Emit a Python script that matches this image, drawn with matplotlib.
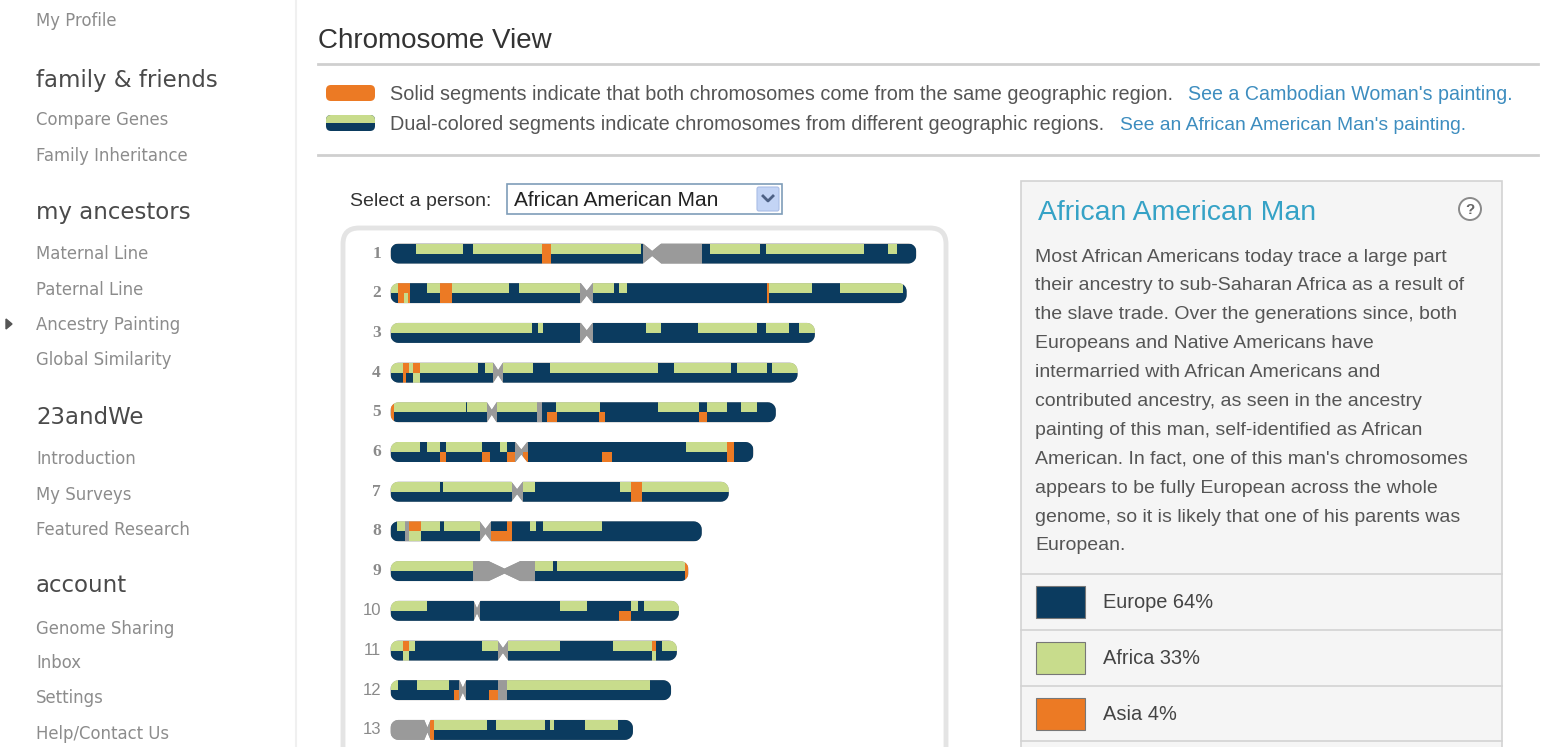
import numpy as np
import matplotlib
matplotlib.use('Agg')
import matplotlib.pyplot as plt
from matplotlib.patches import Rectangle, Polygon, FancyBboxPatch, Circle

# colours used on the page
NAVY = '#0b3b5f'
GREEN = '#c8dc8c'
ORANGE = '#ec7a24'
GRAY = '#9a9a9a'
seg_colors = {'E': NAVY, 'F': GREEN, 'A': ORANGE, 'C': GRAY}

# ---- data: ancestry painting of the African American man (positions in Mb) ----
chrom_names = ['1', '2', '3', '4', '5', '6', '7', '8', '9', '10', '11', '12', '13']
centromere = [124, 93, 93, 51, 48, 62, 60, 45, 54, 41, 53.3, 34.3, 17.5]
cen_halfwidth = [4.3, 2.8, 2.8, 2.3, 2.3, 2.8, 2.7, 2.7, 7.5, 1.6, 2.5, 1.6, 1.5]

# each strand: list of (segment end, region) ; E=Europe F=Africa A=Asia C=no data
top_strand = [
    [(12.3, 'E'), (34.5, 'F'), (39.2, 'E'), (71.9, 'F'), (76.2, 'A'), (118.5, 'F'), (119.7, 'E'), (147.5, 'C'),
     (151.2, 'E'), (175.1, 'F'), (177.9, 'E'), (224.3, 'F'), (235.9, 'E'), (240.1, 'F'), (249.2, 'E')],
    [(3.7, 'F'), (9.2, 'A'), (17.2, 'E'), (23.5, 'F'), (29.0, 'A'), (56.3, 'F'), (61.0, 'E'), (90.0, 'F'),
     (95.8, 'C'), (106.0, 'F'), (108.2, 'E'), (112.2, 'F'), (178.4, 'E'), (179.5, 'A'), (199.6, 'F'),
     (212.9, 'E'), (242.8, 'F'), (244.6, 'E')],
    [(67.2, 'F'), (70.1, 'E'), (72.2, 'F'), (90.0, 'E'), (95.8, 'C'), (121.2, 'E'), (128.1, 'F'), (145.7, 'E'),
     (173.9, 'F'), (177.9, 'E'), (188.7, 'F'), (193.5, 'E'), (201.1, 'F')],
    [(6.0, 'F'), (8.7, 'A'), (10.5, 'F'), (14.2, 'A'), (41.4, 'F'), (45.0, 'E'), (48.6, 'F'), (53.2, 'C'),
     (67.7, 'F'), (75.5, 'E'), (126.7, 'F'), (134.3, 'E'), (161.2, 'F'), (164.4, 'E'), (178.4, 'F'),
     (180.8, 'E'), (192.9, 'F')],
    [(1.5, 'A'), (35.6, 'F'), (36.3, 'E'), (45.9, 'F'), (50.5, 'C'), (69.5, 'F'), (71.9, 'C'), (78.6, 'E'),
     (99.5, 'F'), (126.7, 'E'), (146.1, 'F'), (149.9, 'E'), (159.7, 'F'), (166.2, 'E'), (173.9, 'F'),
     (182.6, 'E')],
    [(13.8, 'F'), (17.4, 'E'), (23.6, 'F'), (26.5, 'E'), (43.6, 'F'), (51.9, 'E'), (55.0, 'F'), (59.2, 'E'),
     (65.0, 'C'), (139.9, 'E'), (159.3, 'F'), (162.6, 'A'), (172.0, 'E')],
    [(23.6, 'F'), (25.0, 'E'), (57.4, 'F'), (62.8, 'C'), (68.6, 'F'), (108.9, 'E'), (114.0, 'F'), (119.4, 'A'),
     (160.3, 'F')],
    [(3.3, 'E'), (6.9, 'F'), (8.7, 'C'), (14.5, 'A'), (23.6, 'F'), (25.4, 'E'), (42.3, 'F'), (47.7, 'C'),
     (55.0, 'E'), (57.4, 'A'), (66.2, 'E'), (69.1, 'F'), (72.2, 'E'), (100.0, 'F'), (147.5, 'E')],
    [(39.2, 'F'), (68.6, 'C'), (76.8, 'F'), (79.1, 'E'), (139.4, 'F'), (141.2, 'A')],
    [(17.4, 'F'), (39.4, 'E'), (42.5, 'C'), (80.4, 'E'), (93.1, 'F'), (114.0, 'E'), (117.2, 'F'), (120.3, 'E'),
     (136.7, 'F')],
    [(6.0, 'F'), (8.7, 'A'), (11.4, 'F'), (43.6, 'E'), (50.8, 'F'), (55.9, 'C'), (80.4, 'F'), (105.4, 'E'),
     (124.0, 'F'), (125.8, 'A'), (128.5, 'E'), (135.7, 'F')],
    [(3.6, 'F'), (12.7, 'E'), (27.8, 'F'), (32.7, 'E'), (35.9, 'C'), (50.8, 'E'), (55.0, 'C'), (123.0, 'F'),
     (133.0, 'E')],
    [(18.7, 'C'), (20.5, 'A'), (45.9, 'F'), (49.9, 'E'), (73.1, 'F'), (75.5, 'E'), (77.7, 'F'), (92.2, 'E'),
     (107.6, 'F'), (114.9, 'E')],
]
bottom_strand = [
    [(71.9, 'E'), (76.2, 'A'), (119.7, 'E'), (147.5, 'C'), (249.2, 'E')],
    [(3.7, 'E'), (6.5, 'A'), (8.5, 'F'), (9.2, 'A'), (23.5, 'E'), (29.0, 'A'), (90.0, 'E'), (95.8, 'C'),
     (178.4, 'E'), (179.5, 'A'), (244.6, 'E')],
    [(90.0, 'E'), (95.8, 'C'), (201.1, 'E')],
    [(6.0, 'E'), (7.5, 'A'), (10.5, 'E'), (14.2, 'F'), (48.6, 'E'), (53.2, 'C'), (192.9, 'E')],
    [(1.5, 'A'), (45.9, 'E'), (50.5, 'C'), (69.5, 'E'), (71.9, 'C'), (74.0, 'E'), (79.0, 'A'), (99.0, 'E'),
     (101.5, 'A'), (146.1, 'E'), (149.9, 'A'), (182.6, 'E')],
    [(23.6, 'E'), (26.5, 'A'), (43.6, 'E'), (47.2, 'A'), (55.0, 'E'), (59.2, 'A'), (63.0, 'C'), (65.0, 'A'),
     (100.0, 'E'), (104.9, 'A'), (159.3, 'E'), (162.6, 'A'), (172.0, 'E')],
    [(57.4, 'E'), (62.8, 'C'), (114.0, 'E'), (119.4, 'A'), (160.3, 'E')],
    [(6.9, 'E'), (8.7, 'C'), (14.5, 'F'), (42.3, 'E'), (47.7, 'C'), (57.4, 'A'), (147.5, 'E')],
    [(39.2, 'E'), (68.6, 'C'), (139.4, 'E'), (141.2, 'A')],
    [(39.4, 'E'), (42.5, 'C'), (108.1, 'E'), (114.0, 'A'), (136.7, 'E')],
    [(6.0, 'E'), (8.7, 'F'), (50.8, 'E'), (55.9, 'C'), (124.0, 'E'), (125.8, 'F'), (135.7, 'E')],
    [(30.1, 'E'), (32.7, 'A'), (35.9, 'C'), (46.5, 'E'), (50.8, 'A'), (55.0, 'C'), (133.0, 'E')],
    [(18.7, 'C'), (20.5, 'A'), (114.9, 'E')],
]

region_labels = ['Europe 64%', 'Africa 33%', 'Asia 4%']
region_keys = ['E', 'F', 'A']

nav_headers = ['family & friends', 'my ancestors', '23andWe', 'account']
nav_header_y = [79, 212, 417, 584]
nav_items = ['My Profile', 'Compare Genes', 'Family Inheritance', 'Maternal Line', 'Paternal Line',
             'Ancestry Painting', 'Global Similarity', 'Introduction', 'My Surveys', 'Featured Research',
             'Genome Sharing', 'Inbox', 'Settings', 'Help/Contact Us']
nav_item_y = [20, 119, 155, 253, 289, 324, 359, 458, 494, 529, 628, 662, 697, 733]

info_lines = [
    'Most African Americans today trace a large part',
    'their ancestry to sub-Saharan Africa as a result of',
    'the slave trade. Over the generations since, both',
    'Europeans and Native Americans have',
    'intermarried with African Americans and',
    "contributed ancestry, as seen in the ancestry",
    'painting of this man, self-identified as African',
    "American. In fact, one of this man's chromosomes",
    'appears to be fully European across the whole',
    'genome, so it is likely that one of his parents was',
    'European.',
]

SANS = ['Liberation Sans', 'DejaVu Sans']
TXT = '#555555'
LINK = '#3d8dbf'

fig = plt.figure(figsize=(15.44, 7.47), dpi=100)
ax = fig.add_axes([0, 0, 1, 1])
ax.set_xlim(0, 1544)
ax.set_ylim(747, 0)
ax.axis('off')

# ---- left navigation ----
ax.plot([296, 296], [0, 747], color='#f0f0f0', lw=1.5)
for label, y in zip(nav_headers, nav_header_y):
    ax.text(36, y + 1, label, fontsize=16.5, color='#4a4a4a', va='center', family='DejaVu Sans')
for label, y in zip(nav_items, nav_item_y):
    ax.text(36, y + 1, label, fontsize=11.9, color='#8c8c8c', va='center', family='DejaVu Sans')
ax.add_patch(Polygon([[6, 319], [6, 329], [12, 324]], closed=True, color='#555555'))

# ---- header ----
ax.text(318, 41, 'Chromosome View', fontsize=20, color='#333333', va='center', family=SANS)
ax.plot([318, 1538], [64, 64], color='#cfcfcf', lw=2)
ax.plot([318, 1538], [155, 155], color='#cfcfcf', lw=2)

ax.add_patch(FancyBboxPatch((326, 85), 49, 16, boxstyle='round,pad=0,rounding_size=5',
                            facecolor=ORANGE, edgecolor='none'))
icon = FancyBboxPatch((326, 115), 49, 16, boxstyle='round,pad=0,rounding_size=5',
                      facecolor=NAVY, edgecolor='none')
ax.add_patch(icon)
top_half = Rectangle((326, 115), 49, 8, facecolor=GREEN, edgecolor='none')
ax.add_patch(top_half)
top_half.set_clip_path(icon)

ax.text(390, 95, 'Solid segments indicate that both chromosomes come from the same geographic region.',
        fontsize=14.3, color=TXT, va='center', family=SANS)
ax.text(1188, 95, "See a Cambodian Woman's painting.", fontsize=14.15, color=LINK, va='center', family=SANS)
ax.text(390, 125, 'Dual-colored segments indicate chromosomes from different geographic regions.',
        fontsize=14.3, color=TXT, va='center', family=SANS)
ax.text(1120, 125, "See an African American Man's painting.", fontsize=13.9, color=LINK, va='center',
        family=SANS)

# ---- person selector ----
ax.text(350, 202, 'Select a person:', fontsize=14, color='#333333', va='center', family=SANS)
ax.add_patch(Rectangle((507, 184), 275, 30, facecolor='white', edgecolor='#7f9db9', lw=1.2))
ax.text(514, 200, 'African American Man', fontsize=15, color='#222222', va='center', family=SANS)
ax.add_patch(FancyBboxPatch((757, 187), 22, 24, boxstyle='round,pad=0,rounding_size=2',
                            facecolor='#c3d4f5', edgecolor='#a9bde6', lw=0.8))
ax.plot([763, 768, 773], [196, 201, 196], color='#4d6185', lw=2)

# ---- chromosome panel ----
ax.add_patch(FancyBboxPatch((343, 228), 603, 560, boxstyle='round,pad=0,rounding_size=16',
                            facecolor='white', edgecolor='#e4e4e4', lw=3.5))

x_start = 390.5
px_per_mb = 2.11
row_y0 = 253.5
row_step = 39.7
bar_h = 20


def chrom_outline(x0, x1, yc, h, cx, hw, r=8, waist=2.5):
    top, bot = yc - h / 2, yc + h / 2
    pts = [(x0 + r, top)]
    if hw > 0:
        pts += [(cx - hw, top), (cx, yc - waist), (cx + hw, top)]
    pts.append((x1 - r, top))
    for t in np.linspace(-np.pi / 2, 0, 8):
        pts.append((x1 - r + r * np.cos(t), top + r + r * np.sin(t)))
    for t in np.linspace(0, np.pi / 2, 8):
        pts.append((x1 - r + r * np.cos(t), bot - r + r * np.sin(t)))
    if hw > 0:
        pts += [(cx + hw, bot), (cx, yc + waist), (cx - hw, bot)]
    for t in np.linspace(np.pi / 2, np.pi, 8):
        pts.append((x0 + r + r * np.cos(t), bot - r + r * np.sin(t)))
    for t in np.linspace(np.pi, 1.5 * np.pi, 8):
        pts.append((x0 + r + r * np.cos(t), top + r + r * np.sin(t)))
    return pts


for i, name in enumerate(chrom_names):
    yc = row_y0 + i * row_step
    length = top_strand[i][-1][0]
    x1 = x_start + length * px_per_mb
    cx = x_start + centromere[i] * px_per_mb
    hw = cen_halfwidth[i] * px_per_mb
    shape = Polygon(chrom_outline(x_start, x1, yc, bar_h, cx, hw), closed=True,
                    facecolor=GRAY, edgecolor='none')
    ax.add_patch(shape)
    for strand, y_top in ((top_strand[i], yc - bar_h / 2), (bottom_strand[i], yc)):
        start = 0.0
        for end, code in strand:
            seg = Rectangle((x_start + start * px_per_mb, y_top), (end - start) * px_per_mb, bar_h / 2,
                            facecolor=seg_colors[code], edgecolor='none')
            ax.add_patch(seg)
            seg.set_clip_path(shape)
            start = end
    if len(name) == 1:
        ax.text(381, yc, name, fontsize=12.5, color='#8a8a8a', ha='right', va='center',
                family='Liberation Serif', weight='bold')
    else:
        ax.text(381, yc, name, fontsize=12, color='#8a8a8a', ha='right', va='center',
                family='Liberation Sans')

# ---- info box ----
ax.add_patch(Rectangle((1021, 181), 481, 600, facecolor='#f5f5f5', edgecolor='#d3d3d3', lw=1.2))
ax.text(1038, 213, 'African American Man', fontsize=20.4, color='#35a2c6', va='center', family=SANS)
ax.add_patch(Circle((1470, 209), 11, facecolor='white', edgecolor='#8a8a8a', lw=1.4))
ax.text(1470, 209.5, '?', fontsize=11, color='#666666', ha='center', va='center', weight='bold', family=SANS)
for k, line in enumerate(info_lines):
    ax.text(1035, 257 + k * 28.9, line, fontsize=14, color=TXT, va='center', family=SANS)

sep_y = [574, 630, 686, 741]
for y in sep_y:
    ax.plot([1021, 1502], [y, y], color='#d3d3d3', lw=1.2)
for k, (label, key) in enumerate(zip(region_labels, region_keys)):
    ym = (sep_y[k] + sep_y[k + 1]) / 2
    ax.add_patch(Rectangle((1036, ym - 16), 49, 32, facecolor=seg_colors[key], edgecolor='#777777', lw=0.8))
    ax.text(1103, ym + 1, label, fontsize=14.4, color='#444444', va='center', family=SANS)

fig.savefig('out.png', dpi=100, facecolor='white')
